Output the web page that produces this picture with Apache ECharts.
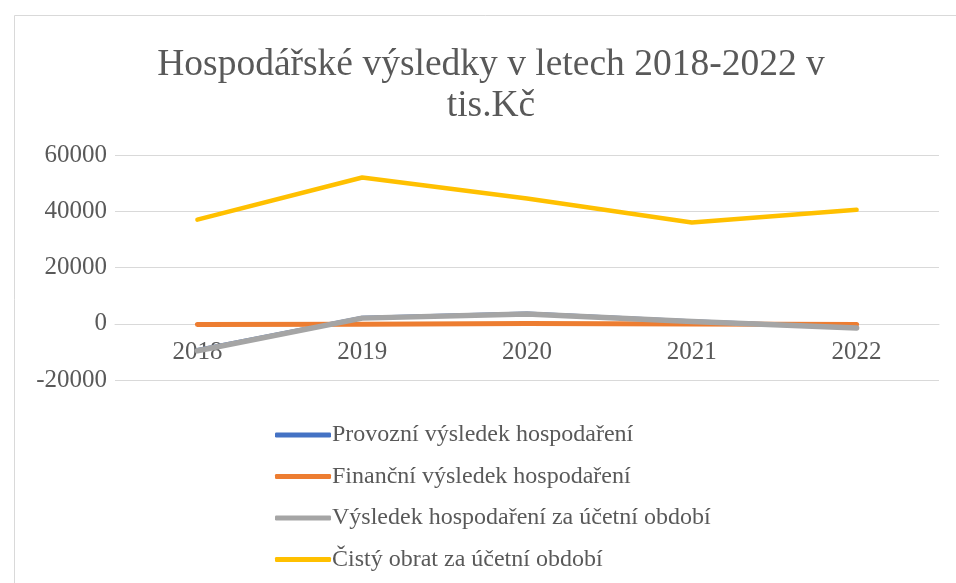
<!DOCTYPE html>
<html>
<head>
<meta charset="utf-8">
<script src="https://cdn.jsdelivr.net/npm/echarts@6/dist/echarts.min.js"></script>
<style>
	html, body { margin: 0; padding: 0; background: #fff; }
	#chart { width: 956px; height: 583px; }
</style>
</head>
<body>
<div id="chart"></div>
<script>
// roky
var years = ['2018', '2019', '2020', '2021', '2022'];
// Provozní výsledek hospodaření
var provozni = [-9300, 2150, 3650, 850, -1300];
// Finanční výsledek hospodaření
var financni = [-300, -150, 100, -50, -250];
// Výsledek hospodaření za účetní období
var vysledek = [-9600, 2000, 3500, 800, -1500];
// Čistý obrat za účetní období
var obrat = [37000, 52000, 44500, 36000, 40500];
var yTicks = [-20000, 0, 20000, 40000, 60000];

var seriesNames = [
	'Provozní výsledek hospodaření',
	'Finanční výsledek hospodaření',
	'Výsledek hospodaření za účetní období',
	'Čistý obrat za účetní období'
];

var font = '"Liberation Serif", "DejaVu Serif", serif';
var textColor = '#595959';
var gridHeight = 225;
// posun osy x na nulu (labely pod nulovou čarou jako v Excelu)
var zeroOffset = -gridHeight * (0 - yTicks[0]) / (yTicks[yTicks.length - 1] - yTicks[0]);

var myChart = echarts.init(document.getElementById('chart'));

function line(name, data, color, width, z) {
	return {
		name: name,
		type: 'line',
		data: data,
		symbol: 'none',
		z: z,
		lineStyle: { color: color, width: width, cap: 'round', join: 'round' },
		itemStyle: { color: color }
	};
}

var option = {
	animation: false,
	backgroundColor: '#fff',
	title: {
		text: 'Hospodářské výsledky v letech 2018-2022 v\ntis.Kč',
		left: 486,
		textAlign: 'center',
		top: 40,
		textStyle: {
			fontFamily: font,
			fontWeight: 'normal',
			fontSize: 37.5,
			lineHeight: 41,
			color: textColor
		}
	},
	graphic: [{
		type: 'rect',
		shape: { x: 14.5, y: 15.5, width: 960, height: 600 },
		style: { fill: 'none', stroke: '#d9d9d9', lineWidth: 1 },
		silent: true
	}],
	legend: {
		orient: 'vertical',
		left: 270,
		top: 418,
		itemWidth: 56,
		itemHeight: 5,
		itemGap: 17.5,
		icon: 'roundRect',
		data: seriesNames,
		textStyle: {
			fontFamily: font,
			fontSize: 24,
			color: textColor,
			padding: [0, 0, 0, -4]
		}
	},
	grid: {
		left: 115,
		right: 17,
		top: 155,
		height: gridHeight
	},
	xAxis: {
		type: 'category',
		data: years,
		boundaryGap: true,
		offset: zeroOffset,
		axisLine: { onZero: false, lineStyle: { color: '#d9d9d9', width: 1 } },
		axisTick: { show: false },
		axisLabel: {
			fontFamily: font,
			fontSize: 25,
			color: textColor,
			margin: 16
		}
	},
	yAxis: {
		type: 'value',
		min: yTicks[0],
		max: yTicks[yTicks.length - 1],
		interval: 20000,
		axisLine: { show: false },
		axisTick: { show: false },
		splitLine: { lineStyle: { color: '#d9d9d9', width: 1 } },
		axisLabel: {
			fontFamily: font,
			fontSize: 25,
			color: textColor,
			margin: 8,
			formatter: function (v) { return String(v); }
		}
	},
	series: [
		line(seriesNames[0], provozni, '#4472C4', 4, 2),
		line(seriesNames[1], financni, '#ED7D31', 5, 3),
		line(seriesNames[2], vysledek, '#A5A5A5', 5.5, 4),
		line(seriesNames[3], obrat, '#FFC000', 4.5, 5)
	]
};
myChart.setOption(option);
</script>
</body>
</html>
